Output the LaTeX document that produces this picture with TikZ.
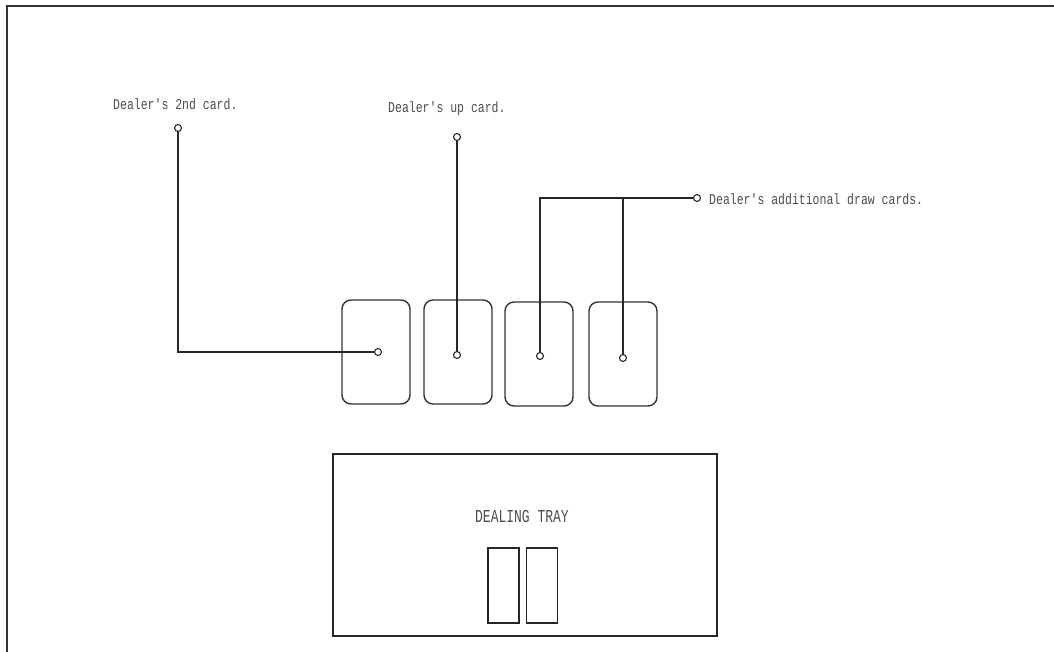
\documentclass[tikz,border=0pt]{standalone}
\usepackage{fontspec}
\setmonofont{Liberation Mono}
\begin{document}
\begin{tikzpicture}[x=1pt,y=-1pt,
  line/.style={draw=black!85,line width=1.4pt},
  card/.style={draw=black!80,line width=1.4pt,rounded corners=9pt,minimum width=68pt,minimum height=104pt,inner sep=0pt},
  slot/.style={draw=black!85,line width=1.4pt,minimum width=31pt,minimum height=75pt,inner sep=0pt},
  lbl/.style={font=\ttfamily\fontsize{11.5}{12}\selectfont,text=black!70,inner sep=0pt,anchor=west,yscale=1.3,transform shape},
  pin/.style={circle,draw=black!85,fill=white,line width=1.1pt,minimum size=7pt,inner sep=0pt}]
\useasboundingbox (0,0) rectangle (1054,652);
% frame
\draw[line width=1.6pt,black!80] (7,652) -- (7,6) -- (1054,6);
% cards
\node[card] (c1) at (376,352) {};
\node[card] (c2) at (458,352) {};
\node[card] (c3) at (539,354) {};
\node[card] (c4) at (623,354) {};
% pins
\node[pin] (p1) at (378,352) {};
\node[pin] (p2) at (457,355) {};
\node[pin] (p3) at (540,356) {};
\node[pin] (p4) at (623,358) {};
\node[pin] (t1) at (178,128) {};
\node[pin] (t2) at (457,137) {};
\node[pin] (t3) at (697,198) {};
\coordinate (k3) at (540,198);
\coordinate (k4) at (623,198);
\coordinate (k1) at (178,352);
% connectors
\draw[line] (p1.west) -- (k1) -- (t1.south);
\draw[line] (p2.north) -- (t2.south);
\draw[line] (p3.north) -- (k3) -- (t3.west);
\draw[line] (p4.north) -- (k4);
% labels
\node[lbl] (l1) at (113,104) {Dealer's 2nd card.};
\node[lbl] (l2) at (388,109) {Dealer's up card.};
\node[lbl] (l3) at (709,199) {Dealer's additional draw cards.};
% tray
\node[draw=black!85,line width=1.5pt,minimum width=384pt,minimum height=182pt,inner sep=0pt] (tray) at (525,545) {};
\node[font=\ttfamily\fontsize{13}{14}\selectfont,text=black!70,inner sep=0pt,yscale=1.4,transform shape] (tt) at (522,516) {DEALING TRAY};
\node[slot] (s1) at (503.5,585.5) {};
\node[slot] (s2) at (542,585.5) {};
\end{tikzpicture}
\end{document}
